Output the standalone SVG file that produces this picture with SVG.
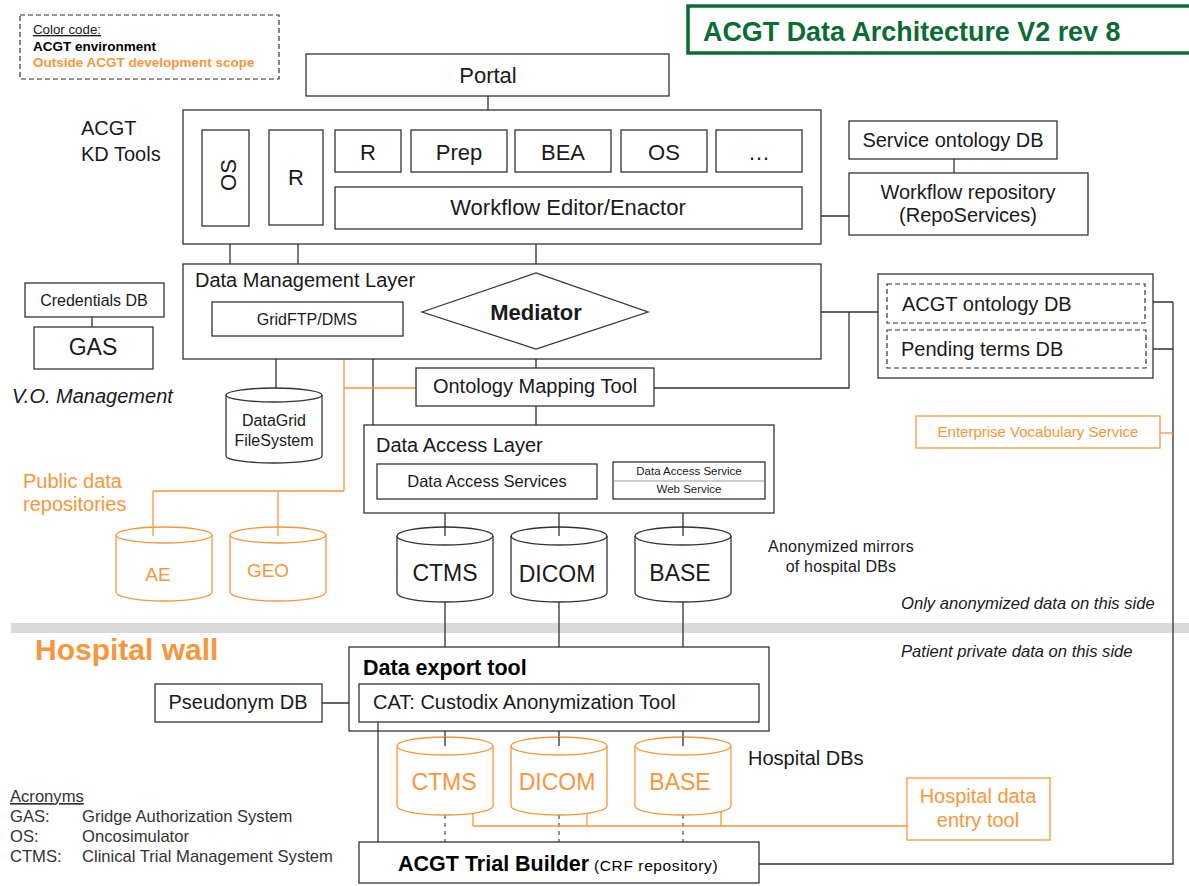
<svg xmlns="http://www.w3.org/2000/svg" width="1189" height="886" viewBox="0 0 1189 886">
<style>
text{font-family:"Liberation Sans",Arial,sans-serif;fill:#1a1a1a}
.b{fill:#fff;stroke:#333;stroke-width:1.3}
.bo{fill:#fff;stroke:#f9963b;stroke-width:1.3}
.bd{fill:#fff;stroke:#333;stroke-width:1.2;stroke-dasharray:5,3}
.ln{fill:none;stroke:#333;stroke-width:1.3}
.lo{fill:none;stroke:#f9963b;stroke-width:1.3}
.ld{fill:none;stroke:#555;stroke-width:1.3;stroke-dasharray:4,4}
.cyl{fill:#fff;stroke:#333;stroke-width:1.3}
.cylo{fill:#fff;stroke:#f9963b;stroke-width:1.3}
.o{fill:#f9963b}
.m{text-anchor:middle}
.bold{font-weight:bold}
.f20{font-size:20px}
.f22{font-size:22px}
.f16{font-size:16px}
</style>
<rect width="1189" height="886" fill="#fff"/>

<!-- hospital wall band -->
<rect x="11" y="623" width="1178" height="10" fill="#d9d9d9"/>

<!-- legend -->
<g id="legend">
<rect x="20" y="15" width="259" height="64" fill="#fff" stroke="#333" stroke-width="1.2" stroke-dasharray="5,3"/>
<text x="33" y="34" font-size="13.3" text-decoration="underline">Color code:</text>
<text x="33" y="51" font-size="13.5" class="bold" style="fill:#000">ACGT environment</text>
<text x="33" y="67" font-size="13.5" class="bold o">Outside ACGT development scope</text>
</g>

<g id="title">
<rect x="688" y="6" width="520" height="47" fill="#fff" stroke="#0b6b35" stroke-width="3.5"/>
<text x="703" y="41" font-size="26.9" class="bold" style="fill:#0b6b35">ACGT Data Architecture V2 rev 8</text>
</g>

<!-- connectors -->
<g id="connectors">
<path class="ln" d="M488,96V110"/>
<path class="ln" d="M373,172V187M459,172V187M563,172V187M659,172V187M755,172V187"/>
<path class="ln" d="M230,226V264M298,225V264M536,229V273"/>
<path class="ln" d="M802,216H849M954,159V173"/>
<path class="ln" d="M92,317V327"/>
<path class="ln" d="M648,312H887M654,388H849V312"/>
<path class="ln" d="M536,349V368M536,406V425"/>
<path class="ln" d="M276,336V397M373,336V425"/>
<path class="lo" d="M344,336V491M344,388H416M153,491H344M153,491V536M278,491V536"/>
<path class="ln" d="M1011,323V330"/>
<path class="ln" d="M1145,302H1173M1146,349H1173M1173,302V864H759"/>
<path class="lo" d="M1160,433H1173"/>
<path class="ln" d="M445,499V536M559,499V536M683,499V536"/>
<path class="ln" d="M445,602V647M559,602V647M683,602V647"/>
<path class="ln" d="M322,703H359M378,722V842"/>
<path class="ln" d="M445,731V746M559,731V746M683,731V746"/>
<path class="ld" d="M445,815V842M559,815V842M683,815V842"/>
<path class="lo" d="M473,810V826M587,813V826M721,812V826M473,826H907"/>
</g>

<g id="portal">
<rect class="b" x="306" y="54" width="363" height="42"/>
<text class="m f22" x="488" y="83">Portal</text>
</g>

<g id="kd-tools">
<rect class="b" x="183" y="110" width="638" height="134"/>
<text x="81" y="135" class="f20">ACGT</text>
<text x="81" y="161" class="f20">KD Tools</text>
</g>

<g id="os-vertical">
<rect class="b" x="202" y="130" width="47" height="96"/>
<text class="m f22" transform="translate(236,175) rotate(-90)" x="0" y="0">OS</text>
</g>
<g id="r-vertical">
<rect class="b" x="269" y="130" width="54" height="95"/>
<text class="m f22" x="296" y="185">R</text>
</g>

<g id="tool-r"><rect class="b" x="335" y="130" width="66" height="42"/><text class="m f22" x="368" y="160">R</text></g>
<g id="tool-prep"><rect class="b" x="411" y="130" width="96" height="42"/><text class="m f22" x="459" y="160">Prep</text></g>
<g id="tool-bea"><rect class="b" x="515" y="130" width="96" height="42"/><text class="m f22" x="563" y="160">BEA</text></g>
<g id="tool-os"><rect class="b" x="621" y="130" width="86" height="42"/><text class="m f22" x="664" y="160">OS</text></g>
<g id="tool-more"><rect class="b" x="716" y="130" width="86" height="42"/><text class="m f22" x="759" y="160">…</text></g>

<g id="workflow-editor">
<rect class="b" x="335" y="187" width="467" height="42"/>
<text class="m f22" x="568" y="215">Workflow Editor/Enactor</text>
</g>

<g id="service-ontology-db">
<rect class="b" x="849" y="121" width="208" height="38"/>
<text class="m f20" x="953" y="147">Service ontology DB</text>
</g>
<g id="workflow-repository">
<rect class="b" x="849" y="173" width="239" height="62"/>
<text class="m f20" x="968" y="199">Workflow repository</text>
<text class="m f20" x="968" y="222">(RepoServices)</text>
</g>

<g id="credentials-db">
<rect class="b" x="25" y="283" width="139" height="34"/>
<text class="m f16" x="94" y="306">Credentials DB</text>
</g>
<g id="gas">
<rect class="b" x="34" y="327" width="119" height="42"/>
<text class="m" font-size="23" x="93" y="355">GAS</text>
</g>
<text x="12" y="403" class="f20" font-style="italic">V.O. Management</text>

<g id="data-management-layer">
<rect class="b" x="183" y="264" width="638" height="95"/>
<text x="195" y="287" class="f20">Data Management Layer</text>
</g>
<g id="gridftp">
<rect class="b" x="212" y="302" width="191" height="34"/>
<text class="m f16" x="307" y="325">GridFTP/DMS</text>
</g>
<g id="mediator">
<polygon class="b" points="422,312 536,273 648,312 536,349"/>
<text class="m f22 bold" x="536" y="320">Mediator</text>
</g>
<g id="ontology-mapping-tool">
<rect class="b" x="416" y="368" width="238" height="38"/>
<text class="m f20" x="535" y="393">Ontology Mapping Tool</text>
</g>

<g id="datagrid">
<path class="cyl" d="M226,395A48,7 0 0 1 322,395V456A48,7 0 0 1 226,456Z"/>
<path class="ln" d="M226,395A48,7 0 0 0 322,395"/>
<text class="m f16" x="274" y="426">DataGrid</text>
<text class="m f16" x="274" y="446">FileSystem</text>
</g>

<text x="23" y="488" class="f20 o">Public data</text>
<text x="23" y="511" class="f20 o">repositories</text>

<g id="data-access-layer">
<rect class="b" x="364" y="425" width="410" height="88"/>
<text x="376" y="452" class="f20">Data Access Layer</text>
</g>
<g id="data-access-services">
<rect class="b" x="377" y="464" width="220" height="35"/>
<text class="m" font-size="16.5" x="487" y="487">Data Access Services</text>
</g>
<g id="das-web-service">
<rect class="b" x="613" y="462" width="152" height="37"/>
<path d="M614,481H764" stroke="#999" stroke-width="1.2"/>
<text class="m" font-size="11.5" x="689" y="475">Data Access Service</text>
<text class="m" font-size="11.5" x="689" y="493">Web Service</text>
</g>

<g id="ontology-group">
<rect class="b" x="878" y="274" width="275" height="104"/>
</g>
<g id="acgt-ontology-db">
<rect class="bd" x="887" y="284" width="258" height="39"/>
<text x="902" y="311" class="f20">ACGT ontology DB</text>
</g>
<g id="pending-terms-db">
<rect class="bd" x="887" y="330" width="259" height="38"/>
<text x="901" y="356" class="f20">Pending terms DB</text>
</g>
<g id="enterprise-vocabulary">
<rect class="bo" x="916" y="416" width="244" height="32"/>
<text class="m o" font-size="15" x="1038" y="437">Enterprise Vocabulary Service</text>
</g>

<g id="ae">
<path class="cylo" d="M116,535A48,8 0 0 1 212,535V592A48,9 0 0 1 116,592Z"/>
<path class="lo" d="M116,535A48,8 0 0 0 212,535"/>
<text class="m o" font-size="19" x="158" y="581">AE</text>
</g>
<g id="geo">
<path class="cylo" d="M230,535A48,8 0 0 1 326,535V592A48,9 0 0 1 230,592Z"/>
<path class="lo" d="M230,535A48,8 0 0 0 326,535"/>
<text class="m o" font-size="19" x="268" y="577">GEO</text>
</g>

<g id="ctms-mirror">
<path class="cyl" d="M397,536A48,9 0 0 1 493,536V593A48,9 0 0 1 397,593Z"/>
<path class="ln" d="M397,536A48,9 0 0 0 493,536"/>
<text class="m" font-size="23" x="445" y="581">CTMS</text>
</g>
<g id="dicom-mirror">
<path class="cyl" d="M511,536A48,9 0 0 1 607,536V593A48,9 0 0 1 511,593Z"/>
<path class="ln" d="M511,536A48,9 0 0 0 607,536"/>
<text class="m" font-size="23" x="557" y="582">DICOM</text>
</g>
<g id="base-mirror">
<path class="cyl" d="M635,536A48,9 0 0 1 731,536V593A48,9 0 0 1 635,593Z"/>
<path class="ln" d="M635,536A48,9 0 0 0 731,536"/>
<text class="m" font-size="23" x="680" y="581">BASE</text>
</g>
<!-- connector tips inside cylinders -->
<path class="ln" d="M445,526V536M559,526V536M683,526V536"/>
<path class="lo" d="M153,527V536M278,527V536"/>

<text class="m f16" x="841" y="552" letter-spacing="0.2">Anonymized mirrors</text>
<text class="m f16" x="841" y="572" letter-spacing="0.2">of hospital DBs</text>
<text x="901" y="609" font-size="16.6" font-style="italic">Only anonymized data on this side</text>
<text x="901" y="657" font-size="16.6" font-style="italic">Patient private data on this side</text>
<text x="35" y="660" font-size="30" class="bold o">Hospital wall</text>

<g id="data-export-tool">
<rect class="b" x="349" y="647" width="420" height="84"/>
<text x="363" y="675" font-size="21.5" class="bold" style="fill:#000">Data export tool</text>
</g>
<g id="cat">
<rect class="b" x="359" y="684" width="400" height="38"/>
<text x="373" y="709" class="f20">CAT: Custodix Anonymization Tool</text>
</g>
<g id="pseudonym-db">
<rect class="b" x="155" y="684" width="167" height="38"/>
<text class="m f20" x="238" y="709">Pseudonym DB</text>
</g>
<path class="ln" d="M378,722V731"/>

<g id="ctms-hospital">
<path class="cylo" d="M397,746A48,9 0 0 1 493,746V806A48,9 0 0 1 397,806Z"/>
<path class="lo" d="M397,746A48,9 0 0 0 493,746"/>
<text class="m o" font-size="23" x="444" y="790">CTMS</text>
</g>
<g id="dicom-hospital">
<path class="cylo" d="M511,746A48,9 0 0 1 607,746V806A48,9 0 0 1 511,806Z"/>
<path class="lo" d="M511,746A48,9 0 0 0 607,746"/>
<text class="m o" font-size="23" x="557" y="790">DICOM</text>
</g>
<g id="base-hospital">
<path class="cylo" d="M635,746A48,9 0 0 1 731,746V806A48,9 0 0 1 635,806Z"/>
<path class="lo" d="M635,746A48,9 0 0 0 731,746"/>
<text class="m o" font-size="23" x="680" y="790">BASE</text>
</g>
<path class="ln" d="M445,737V746M559,737V746M683,737V746"/>
<text x="748" y="765" class="f20">Hospital DBs</text>

<g id="hospital-data-entry">
<rect class="bo" x="907" y="778" width="143" height="62"/>
<text class="m f20 o" x="978" y="803">Hospital data</text>
<text class="m f20 o" x="978" y="827">entry tool</text>
</g>

<g id="trial-builder">
<rect class="b" x="359" y="842" width="400" height="41"/>
<text x="398" y="871" font-size="21.5" style="fill:#000"><tspan class="bold">ACGT Trial Builder</tspan><tspan font-size="15.5" letter-spacing="0.6"> (CRF repository)</tspan></text>
</g>

<g id="acronyms" font-size="16.6">
<text x="10" y="802" text-decoration="underline" style="fill:#333">Acronyms</text>
<text x="10" y="822" style="fill:#333">GAS:</text><text x="82" y="822" style="fill:#333">Gridge Authorization System</text>
<text x="10" y="842" style="fill:#333">OS:</text><text x="82" y="842" style="fill:#333">Oncosimulator</text>
<text x="10" y="862" style="fill:#333">CTMS:</text><text x="82" y="862" style="fill:#333">Clinical Trial Management System</text>
</g>
</svg>
